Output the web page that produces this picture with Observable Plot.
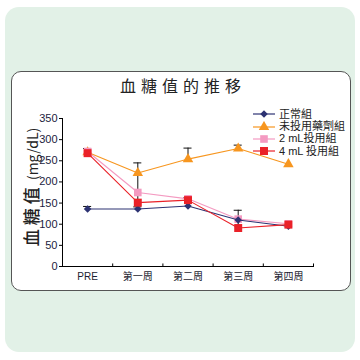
<!DOCTYPE html>
<html><head><meta charset="utf-8">
<script src="https://cdn.jsdelivr.net/npm/d3@7"></script>
<script src="https://cdn.jsdelivr.net/npm/@observablehq/plot@0.6"></script>
<style>
body{margin:0;width:360px;height:360px;position:relative;background:#fff;overflow:hidden;font-family:"Noto Sans CJK TC","Noto Sans CJK JP",sans-serif;}
#bg{position:absolute;left:5px;top:7px;width:350px;height:345px;background:#e2f1e7;border-radius:14px;}
#card{position:absolute;left:11px;top:71px;width:338px;height:218px;background:#fff;border:1px solid #555;border-radius:10px;}
#title{position:absolute;left:3px;width:360px;top:75px;text-align:center;font-size:16px;letter-spacing:5px;color:#222;font-weight:400;line-height:20px;}
#ylab{position:absolute;left:31px;top:187px;transform:translate(-50%,-50%) rotate(-90deg);white-space:nowrap;color:#222;line-height:18px;}
#legend{position:absolute;left:252px;top:108px;font-size:11px;color:#222;font-family:"Liberation Sans","Noto Sans CJK TC",sans-serif;}
#legend .row{display:flex;align-items:center;height:12.4px;white-space:nowrap;}
#legend span{line-height:11px;display:inline-block;height:11px;}
#legend svg{margin-right:3px;}
#chart{position:absolute;left:0;top:0;}
</style></head>
<body>
<div id="bg"></div>
<div id="card"></div>
<div id="title">血糖值的推移</div>
<div id="ylab"><span style="font-size:17px;letter-spacing:4px;font-weight:500">血糖值</span><span style="font-size:14px"> (mg/dL)</span></div>
<div id="legend"></div>
<div id="chart"></div>
<script>
const categories = ["PRE","第一周","第二周","第三周","第四周"];
const seriesNames = ["正常組","未投用藥劑組","2 mL投用組","4 mL 投用組"];
const normal    = [136,136,143,110,95];
const untreated = [270,221,254,279,242];
const dose2     = [272,175,160,112,101];
const dose4     = [268,151,157,91,99];
const normalErr    = [142,141,null,null,null];
const untreatedErr = [null,null,280,287,null];
const dose2Err     = [null,null,null,null,null];
const dose4Err     = [279,245,163,133,null];
const yTicks = [0,50,100,150,200,250,300,350];

const series = [
  {name:seriesNames[0], values:normal, err:normalErr, color:"#2c3272", symbol:"diamond2", r:3.4},
  {name:seriesNames[1], values:untreated, err:untreatedErr, color:"#f7961f", symbol:"triangle", r:3.9},
  {name:seriesNames[2], values:dose2, err:dose2Err, color:"#f49ac1", symbol:"square", r:4.3},
  {name:seriesNames[3], values:dose4, err:dose4Err, color:"#ea2128", symbol:"square", r:4.5}
];
const drawOrder = [1,2,0,3];

// legend
const leg = document.getElementById("legend");
series.forEach(s=>{
  const row = document.createElement("div"); row.className="row";
  const sym = {diamond2:d3.symbolDiamond2,triangle:d3.symbolTriangle,square:d3.symbolSquare}[s.symbol];
  const path = d3.symbol(sym, Math.PI*s.r*s.r)();
  row.innerHTML = `<svg width="24" height="12"><line x1="1" x2="23" y1="6" y2="6" stroke="${s.color}" stroke-width="1.2"/><path transform="translate(12,6)" d="${path}" fill="${s.color}"/></svg><span>${s.name}</span>`;
  leg.appendChild(row);
});

const rows = [], errRows = [];
drawOrder.forEach(k=>{
  const s = series[k];
  s.values.forEach((v,i)=>{
    rows.push({i, v, name:s.name, k});
    if (s.err[i] != null) errRows.push({i, v, e:s.err[i]});
  });
});
const bounds = categories.map((c,i)=>i+0.5);

const marks = [
  Plot.ruleX(errRows, {x:"i", y1:"v", y2:"e", stroke:"#111", strokeWidth:1}),
  Plot.ruleY(errRows, {y:"e", x1:d=>d.i-0.08, x2:d=>d.i+0.08, stroke:"#111", strokeWidth:1}),
];
drawOrder.forEach(k=>{
  const s = series[k];
  const data = rows.filter(d=>d.k===k);
  marks.push(Plot.line(data, {x:"i", y:"v", stroke:s.color, strokeWidth:1.1}));
  marks.push(Plot.dot(data, {x:"i", y:"v", symbol:()=>s.symbol, r:s.r, fill:s.color, stroke:"none"}));
});
marks.push(
  Plot.ruleX(bounds, {x:d=>d, y1:0, y2:6, stroke:"#000"}),
  Plot.frame({anchor:"left", stroke:"#000"}),
  Plot.frame({anchor:"bottom", stroke:"#000"}),
  Plot.axisY({ticks:yTicks, tickSize:3, tickPadding:2, fontSize:11, label:null, stroke:"#000", fill:"#1c1c40"}),
  Plot.axisX({ticks:d3.range(categories.length), tickSize:0, tickPadding:6, fontSize:10, label:null, tickFormat:i=>categories[i], fill:"#1c1c30"})
);

const chart = Plot.plot({
  width:360, height:360,
  marginTop:118, marginBottom:94, marginLeft:62, marginRight:47,
  x:{domain:[-0.5, categories.length-0.5]},
  y:{domain:[0,350]},
  symbol:{type:"identity"},
  style:{background:"transparent", fontFamily:"'Liberation Sans','Noto Sans CJK TC',sans-serif", overflow:"visible"},
  marks
});
document.getElementById("chart").appendChild(chart);
</script>
</body></html>
